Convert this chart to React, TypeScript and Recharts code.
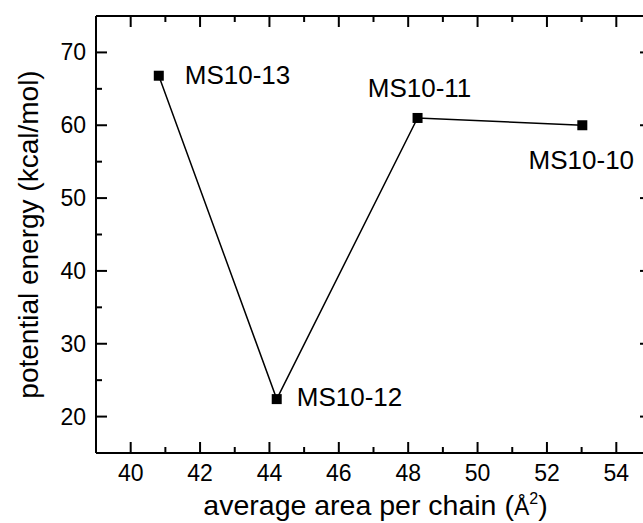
import { LineChart, Line, XAxis, YAxis, LabelList, Label } from 'recharts';

const samples = ['MS10-13', 'MS10-12', 'MS10-11', 'MS10-10'];
const areaPerChain = [40.81, 44.21, 48.27, 53.02];
const potentialEnergy = [66.8, 22.4, 61.0, 60.0];

const xTicks = [40, 41, 42, 43, 44, 45, 46, 47, 48, 49, 50, 51, 52, 53, 54];
const yTicks = [20, 25, 30, 35, 40, 45, 50, 55, 60, 65, 70];

const data = samples.map((name, i) => ({
  name,
  x: areaPerChain[i],
  y: potentialEnergy[i],
}));

const FONT = '"Liberation Sans", Arial, Helvetica, sans-serif';

// where each sample name sits relative to its marker
const labelOffsets: Record<string, { dx: number; dy: number; anchor: 'start' | 'middle' }> = {
  'MS10-13': { dx: 26, dy: 8, anchor: 'start' },
  'MS10-12': { dx: 20, dy: 7, anchor: 'start' },
  'MS10-11': { dx: 2, dy: -21, anchor: 'middle' },
  'MS10-10': { dx: -1, dy: 44, anchor: 'middle' },
};

type Side = 'bottom' | 'top' | 'left' | 'right';

// inward ticks, long on majors, short on minors
const makeTick = (side: Side, majorStep: number, showLabel: boolean) => (props: any) => {
  const { x, y, payload } = props;
  const v = payload.value as number;
  const major = Math.abs(v / majorStep - Math.round(v / majorStep)) < 1e-6;
  const len = major ? 11 : 6;
  let x2 = x;
  let y2 = y;
  if (side === 'bottom') y2 = y - len;
  else if (side === 'top') y2 = y + len;
  else if (side === 'left') x2 = x + len;
  else x2 = x - len;

  let text = null;
  if (showLabel && major) {
    if (side === 'bottom') {
      text = (
        <text x={x} y={y + 28} textAnchor="middle" fontSize={23} fontFamily={FONT} fill="#000">
          {v}
        </text>
      );
    } else if (side === 'left') {
      text = (
        <text x={x - 10} y={y + 8} textAnchor="end" fontSize={23} fontFamily={FONT} fill="#000">
          {v}
        </text>
      );
    }
  }
  return (
    <g>
      <line x1={x} y1={y} x2={x2} y2={y2} stroke="#000" strokeWidth={2} />
      {text}
    </g>
  );
};

const renderPointLabel = (props: any) => {
  const { x, y, value } = props;
  const o = labelOffsets[value] ?? { dx: 20, dy: 8, anchor: 'start' };
  return (
    <text x={x + o.dx} y={y + o.dy} textAnchor={o.anchor} fontSize={26} fontFamily={FONT} fill="#000">
      {value}
    </text>
  );
};

const renderDot = (props: any) => {
  const { cx, cy, index } = props;
  return <rect key={`dot-${index}`} x={cx - 5} y={cy - 5} width={10} height={10} fill="#000" />;
};

const XTitle = (props: any) => {
  const { x, y, width } = props.viewBox;
  return (
    <text x={x + width / 2 + 2} y={y + 62} textAnchor="middle" fontSize={28.5} fontFamily={FONT} fill="#000">
      average area per chain (
      <tspan fontSize={23}>Å</tspan>
      <tspan fontSize={16} dy={-11}>2</tspan>
      <tspan dy={11}>)</tspan>
    </text>
  );
};

const YTitle = (props: any) => {
  const { y, height } = props.viewBox;
  const cy = y + height / 2;
  return (
    <text transform={`translate(38, ${cy}) rotate(-90)`} textAnchor="middle" fontSize={28} fontFamily={FONT} fill="#000">
      potential energy (kcal/mol)
    </text>
  );
};

export default function App() {
  return (
    <div style={{ position: 'fixed', left: 0, top: 0, width: 643, height: 523, overflow: 'hidden', background: '#fff' }}>
      <LineChart width={660} height={523} data={data} margin={{ top: 15, right: 8, left: 0, bottom: 0 }}>
        <XAxis
          xAxisId="b"
          type="number"
          dataKey="x"
          domain={[39, 55]}
          ticks={xTicks}
          interval={0}
          height={70}
          tickSize={0}
          tickMargin={0}
          tickLine={false}
          axisLine={{ stroke: '#000', strokeWidth: 2 }}
          tick={makeTick('bottom', 2, true)}
          allowDataOverflow
        >
          <Label content={XTitle} />
        </XAxis>
        <XAxis
          xAxisId="t"
          orientation="top"
          type="number"
          dataKey="x"
          domain={[39, 55]}
          ticks={xTicks}
          interval={0}
          height={1}
          tickSize={0}
          tickMargin={0}
          tickLine={false}
          axisLine={{ stroke: '#000', strokeWidth: 2 }}
          tick={makeTick('top', 2, false)}
          allowDataOverflow
        />
        <YAxis
          yAxisId="l"
          type="number"
          domain={[15, 75]}
          ticks={yTicks}
          interval={0}
          width={96}
          tickSize={0}
          tickMargin={0}
          tickLine={false}
          axisLine={{ stroke: '#000', strokeWidth: 2 }}
          tick={makeTick('left', 10, true)}
          allowDataOverflow
        >
          <Label content={YTitle} />
        </YAxis>
        <YAxis
          yAxisId="r"
          orientation="right"
          type="number"
          domain={[15, 75]}
          ticks={yTicks}
          interval={0}
          width={1}
          tickSize={0}
          tickMargin={0}
          tickLine={false}
          axisLine={{ stroke: '#000', strokeWidth: 2 }}
          tick={makeTick('right', 10, false)}
          allowDataOverflow
        />
        {/* invisible series so the top and right frame axes get drawn */}
        <Line xAxisId="t" yAxisId="r" type="linear" dataKey="y" stroke="none" dot={false} activeDot={false} legendType="none" isAnimationActive={false} />
        <Line
          xAxisId="b"
          yAxisId="l"
          type="linear"
          dataKey="y"
          stroke="#000"
          strokeWidth={1.5}
          dot={renderDot}
          activeDot={false}
          isAnimationActive={false}
        >
          <LabelList dataKey="name" content={renderPointLabel} />
        </Line>
      </LineChart>
    </div>
  );
}
